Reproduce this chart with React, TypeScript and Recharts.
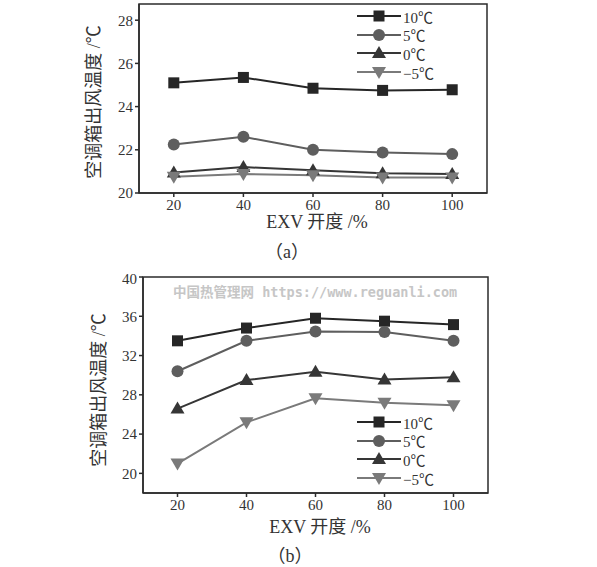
import { LineChart, Line, XAxis, YAxis, ReferenceArea } from 'recharts'

const openings = [20, 40, 60, 80, 100]

// (a)
const a10 = [25.1, 25.35, 24.85, 24.75, 24.78]
const a5 = [22.25, 22.6, 22.0, 21.87, 21.8]
const a0 = [20.95, 21.2, 21.05, 20.92, 20.88]
const aM5 = [20.75, 20.88, 20.82, 20.72, 20.72]

// (b)
const b10 = [33.5, 34.8, 35.8, 35.5, 35.15]
const b5 = [30.4, 33.5, 34.45, 34.4, 33.5]
const b0 = [26.6, 29.5, 30.35, 29.57, 29.8]
const bM5 = [21.0, 25.2, 27.65, 27.2, 26.95]

const aTicks = [20, 22, 24, 26, 28]
const bTicks = [20, 24, 28, 32, 36, 40]
const xTicks = [20, 40, 60, 80, 100]

const series = [
  { key: 't10', name: '10℃', color: '#262626', shape: 'square' },
  { key: 't5', name: '5℃', color: '#5e5e5e', shape: 'circle' },
  { key: 't0', name: '0℃', color: '#363636', shape: 'up' },
  { key: 'tm5', name: '−5℃', color: '#7a7a7a', shape: 'down' },
]

const build = (s10: number[], s5: number[], s0: number[], sm5: number[]) =>
  openings.map((x, i) => ({ x, t10: s10[i], t5: s5[i], t0: s0[i], tm5: sm5[i] }))

const dataA = build(a10, a5, a0, aM5)
const dataB = build(b10, b5, b0, bM5)

const serif = '"Liberation Serif", "Noto Sans CJK SC", serif'
const axisColor = '#2b2b2b'

function Mark({ shape, cx, cy, color }: any) {
  if (cx == null || cy == null) return null
  if (shape === 'square') return <rect x={cx - 5.5} y={cy - 5.5} width={11} height={11} fill={color} />
  if (shape === 'circle') return <circle cx={cx} cy={cy} r={6} fill={color} />
  if (shape === 'up')
    return <polygon points={`${cx},${cy - 7} ${cx - 7},${cy + 5} ${cx + 7},${cy + 5}`} fill={color} />
  return <polygon points={`${cx},${cy + 7} ${cx - 7},${cy - 5} ${cx + 7},${cy - 5}`} fill={color} />
}

function LegendBox({ top }: { top: number }) {
  return (
    <div style={{ position: 'absolute', left: 357, top, fontFamily: serif, fontSize: 15, color: '#333' }}>
      {series.map((s) => (
        <div key={s.key} style={{ display: 'flex', alignItems: 'center', height: 18.6 }}>
          <svg width={44} height={16}>
            <line x1={0} y1={8} x2={44} y2={8} stroke={s.color} strokeWidth={2} />
            <Mark shape={s.shape} cx={22} cy={8} color={s.color} />
          </svg>
          <span style={{ marginLeft: 2 }}>{s.name}</span>
        </div>
      ))}
    </div>
  )
}

function Panel({ data, domain, ticks, top, plotHeight, yAxisWidth, right }: any) {
  const tick = { fontFamily: serif, fontSize: 15, fill: '#333' }
  return (
    <LineChart width={597} height={top + plotHeight + 30} data={data}
      margin={{ top, right, bottom: 0, left: 0 }}>
      <XAxis dataKey="x" type="number" domain={[10, 110]} ticks={xTicks} height={30}
        tick={tick} tickSize={4} stroke={axisColor} strokeWidth={1.5} />
      <YAxis type="number" domain={domain} ticks={ticks} width={yAxisWidth}
        tick={tick} tickSize={4} stroke={axisColor} strokeWidth={1.5} allowDataOverflow />
      <ReferenceArea x1={10} x2={110} y1={domain[0]} y2={domain[1]} fill="none"
        stroke={axisColor} strokeWidth={1.5} ifOverflow="visible" />
      {series.map((s) => (
        <Line key={s.key} dataKey={s.key} name={s.name} stroke={s.color} strokeWidth={2}
          isAnimationActive={false}
          dot={(p: any) => <Mark key={`${s.key}-${p.index}`} shape={s.shape} cx={p.cx} cy={p.cy} color={s.color} />} />
      ))}
    </LineChart>
  )
}

const text = (extra: any) => ({ position: 'absolute' as const, fontFamily: serif, color: '#333', whiteSpace: 'nowrap' as const, ...extra })

export default function App() {
  return (
    <div style={{ position: 'absolute', left: 0, top: 0, width: 597, height: 567, background: '#fff', overflow: 'hidden' }}>
      <div style={{ position: 'absolute', left: 0, top: 0 }}>
        <Panel data={dataA} domain={[20, 28.75]} ticks={aTicks} top={4} plotHeight={189}
          yAxisWidth={139} right={110} />
      </div>
      <div style={{ position: 'absolute', left: 0, top: 270 }}>
        <Panel data={dataB} domain={[18, 40]} ticks={bTicks} top={7} plotHeight={216}
          yAxisWidth={143} right={109} />
      </div>
      <LegendBox top={7} />
      <LegendBox top={413} />

      <div style={text({ left: 92, top: 102, fontSize: 18, transform: 'translate(-50%,-50%) rotate(-90deg)' })}>空调箱出风温度 /℃</div>
      <div style={text({ left: 97, top: 390, fontSize: 18, transform: 'translate(-50%,-50%) rotate(-90deg)' })}>空调箱出风温度 /℃</div>

      <div style={text({ left: 317, top: 220, fontSize: 18, transform: 'translate(-50%,-50%)' })}>EXV 开度 /%</div>
      <div style={text({ left: 320, top: 525, fontSize: 18, transform: 'translate(-50%,-50%)' })}>EXV 开度 /%</div>

      <div style={text({ left: 287, top: 250, fontSize: 18, transform: 'translate(-50%,-50%)' })}>（a）</div>
      <div style={text({ left: 290, top: 554, fontSize: 18, transform: 'translate(-50%,-50%)' })}>（b）</div>

      <div style={text({ left: 173, top: 281, fontSize: 13.5, fontWeight: 'bold', color: '#c6c6c6', fontFamily: '"DejaVu Sans Mono", "Noto Sans CJK SC", monospace' })}>
        中国热管理网 https://www.reguanli.com
      </div>
    </div>
  )
}
